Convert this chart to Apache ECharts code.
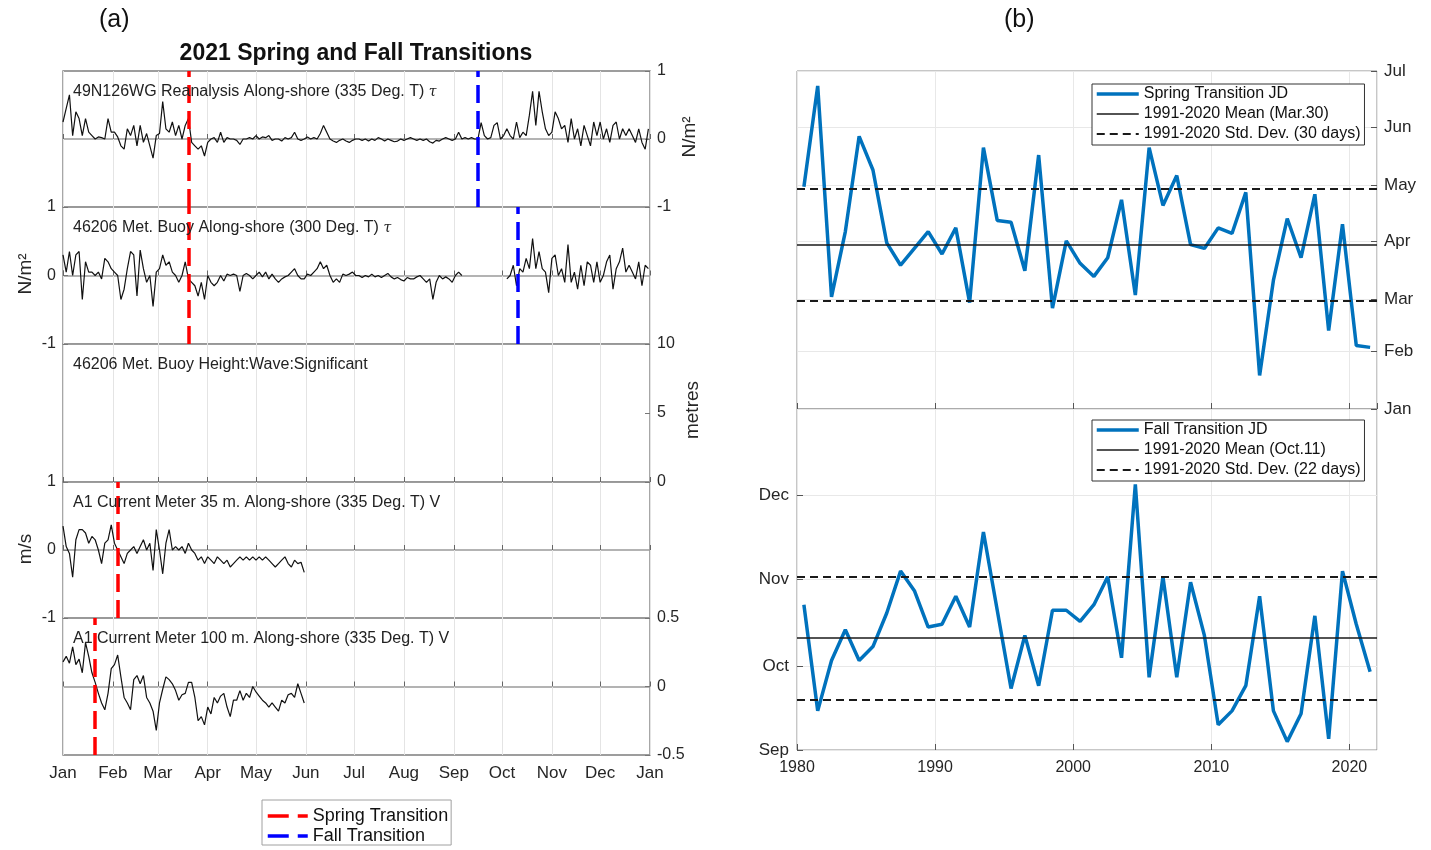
<!DOCTYPE html>
<html>
<head>
<meta charset="utf-8">
<script src="https://cdn.jsdelivr.net/npm/echarts@6/dist/echarts.min.js"></script>
<style>
html, body { margin: 0; padding: 0; background: #ffffff; }
#chart { width: 1431px; height: 850px; }
</style>
</head>
<body>
<div id="chart"></div>
<script>
// ---------- (a) 2021 daily series, sampled every 2 days from 1 Jan 2021 ----------
const sampleStart = '2021-01-01';
const sampleStepDays = 2;

// 49N126WG reanalysis along-shore wind stress (N/m^2)
const reanalysisTau = [
  0.25, 0.45, 0.65, 0.05, 0.4, 0.3, 0.05, 0.3, 0.1, 0.05,
  0.0, 0.03, 0.02, 0.0, 0.3, 0.1, 0.1, 0.03, -0.1, -0.15,
  0.15, 0.05, 0.2, -0.1, 0.2, -0.05, 0.08, -0.1, -0.28, 0.05,
  0.08, 0.55, 0.15, 0.1, 0.25, 0.05, 0.2, 0.0, 0.2, 0.3,
  -0.05, -0.1, -0.15, -0.1, -0.25, -0.05, 0.0, 0.02, -0.05, 0.1,
  -0.05, 0.02, 0.0, 0.0, -0.02, -0.08, 0.0, 0.0, 0.02, 0.0,
  0.05, 0.0, 0.03, 0.02, 0.05, -0.02, 0.0, 0.0, -0.03, 0.02,
  0.0, 0.02, 0.1, 0.0, -0.02, 0.0, 0.03, 0.0, 0.02, 0.0,
  0.08, 0.2, 0.1, 0.0, -0.03, -0.05, -0.02, 0.0, -0.03, -0.05,
  -0.02, 0.0,
  0.0, -0.02, 0.0, -0.03, 0.0, -0.02, 0.02, 0.0, -0.03, 0.0,
  -0.02, -0.04, -0.03, 0.0, -0.02, 0.0, 0.02, 0.0, -0.02, 0.0,
  -0.02, 0.0, -0.04, -0.06, -0.02, -0.03, 0.0, 0.02, 0.0, -0.02,
  0.0, 0.1, 0.0, 0.02, 0.0, 0.02, 0.0, 0.0, 0.24, 0.05,
  0.0, 0.02, 0.2, 0.24, 0.0, 0.05, 0.15, 0.05, 0.0, 0.25,
  0.02, 0.1, 0.05, 0.35, 0.7, 0.2, 0.7, 0.4, 0.15, 0.05,
  0.1, 0.4, 0.3, 0.15, 0.2, -0.05, 0.3, 0.0, 0.15, -0.1,
  0.2, 0.05, -0.1, 0.25, 0.05, 0.25, 0.0, 0.15, -0.05, 0.2,
  0.25, 0.0, 0.15, 0.05, 0.15, 0.05, -0.05, 0.15, -0.05, -0.15, 0.15
];

// 46206 met. buoy along-shore wind stress (N/m^2); null = no data
const buoyTau = [
  0.3, 0.05, 0.35, 0.0, 0.3, 0.35, -0.35, 0.2, 0.05, 0.05,
  0.0, 0.05, -0.05, 0.25, 0.2, 0.1, 0.05, 0.0, -0.35, -0.2,
  0.1, 0.35, 0.3, -0.3, 0.37, 0.1, -0.1, 0.0, -0.45, 0.05,
  0.1, 0.3, 0.15, 0.2, 0.05, 0.0, -0.1, 0.0, 0.2, -0.05,
  -0.1, -0.15, -0.3, -0.1, -0.35, 0.0, -0.1, -0.15, -0.1, 0.0,
  -0.08, 0.02, 0.0, 0.02, 0.0, -0.23, 0.0, 0.03, 0.0, -0.05,
  0.0, 0.05, -0.02, 0.05, -0.05, 0.02, -0.05, -0.1, -0.05, -0.02,
  0.0, 0.05, 0.1, 0.0, -0.05, -0.05, 0.02, 0.0, 0.05, 0.1,
  0.2, 0.1, 0.15, 0.0, -0.1, -0.05, -0.1, 0.02, 0.0, 0.02,
  0.05, 0.0,
  0.0, -0.03, 0.0, -0.02, 0.02, -0.02, 0.0, -0.03, 0.0, 0.03,
  -0.02, -0.05, -0.03, -0.06, -0.08, -0.03, -0.05, -0.05, -0.02, 0.0,
  -0.05, -0.1, -0.05, -0.35, -0.1, 0.0, -0.05, -0.02, -0.05, -0.1,
  0.0, 0.05, 0.0,
  null, null, null, null, null, null, null, null, null, null, null, null, null,
  -0.05, 0.0, 0.15, -0.15,
  0.1, 0.05, 0.25, 0.1, 0.54, 0.1, 0.35, 0.1, 0.05, -0.25,
  0.25, 0.3, 0.0, 0.1, -0.1, 0.45, -0.1, 0.05, -0.2, 0.15,
  -0.15, 0.2, 0.15, -0.1, 0.2, -0.1, 0.0, 0.2, 0.3, -0.2,
  0.1, 0.2, 0.4, 0.05, 0.15, 0.05, -0.05, 0.2, -0.15, 0.15,
  0.1
];

// A1 current meter along-shore velocity (m/s), 1 Jan - 1 Jun
const current35m = [
  0.35, 0.05, -0.05, -0.4, 0.15, 0.3, 0.3, 0.25, 0.1, 0.2,
  0.15, 0.0, -0.2, 0.1, 0.15, 0.37, 0.1, 0.0, -0.1, -0.2,
  -0.05, 0.0, 0.05, -0.05, 0.05, 0.15, 0.0, 0.1, -0.3, 0.3,
  0.0, -0.35, 0.1, 0.3, 0.0, 0.05, 0.0, 0.05, -0.05, 0.1,
  0.0, -0.05, -0.15, -0.1, -0.2, -0.1, -0.15, -0.2, -0.1, -0.15,
  -0.2, -0.15, -0.25, -0.2, -0.15, -0.1, -0.15, -0.1, -0.15, -0.1,
  -0.15, -0.1, -0.15, -0.1, -0.15, -0.2, -0.25, -0.2, -0.15, -0.1,
  -0.2, -0.25, -0.15, -0.2, -0.18, -0.33
];
const current100m = [
  0.18, 0.22, 0.17, 0.29, 0.16, 0.2, 0.1, 0.32, 0.22, 0.1,
  0.03, -0.05, -0.12, -0.17, -0.05, 0.13, 0.16, 0.23, 0.07, -0.08,
  -0.12, -0.17, 0.05, 0.08, 0.02, 0.08, -0.08, -0.12, -0.18, -0.32,
  -0.12, -0.02, 0.07, 0.05, 0.02, -0.03, -0.1, -0.06, -0.05, 0.03,
  0.03, -0.08, -0.25, -0.22, -0.28, -0.15, -0.2, -0.08, -0.12, -0.07,
  -0.05, -0.15, -0.22, -0.1, -0.1, -0.03, -0.1, -0.05, -0.08, 0.0,
  -0.04, -0.07, -0.1, -0.12, -0.15, -0.12, -0.15, -0.18, -0.1, -0.12,
  -0.06, -0.05, -0.08, 0.02, -0.05, -0.12
];

// 2021 transition dates
const springWindDate = '2021-03-20';
const fallReanalysisDate = '2021-09-16';
const fallBuoyDate = '2021-10-11';
const spring35mDate = '2021-02-04';
const spring100mDate = '2021-01-21';

const panelTitles = [
  '49N126WG Reanalysis Along-shore (335 Deg. T) ',
  '46206 Met. Buoy Along-shore (300 Deg. T) ',
  '46206 Met. Buoy Height:Wave:Significant',
  'A1 Current Meter 35 m. Along-shore (335 Deg. T) V',
  'A1 Current Meter 100 m. Along-shore (335 Deg. T) V'
];
const monthNames = ['Jan', 'Feb', 'Mar', 'Apr', 'May', 'Jun', 'Jul', 'Aug', 'Sep', 'Oct', 'Nov', 'Dec'];

// ---------- (b) transition day of year, 1980-2021 ----------
const years = [
  1980, 1981, 1982, 1983, 1984, 1985, 1986, 1987, 1988, 1989,
  1990, 1991, 1992, 1993, 1994, 1995, 1996, 1997, 1998, 1999,
  2000, 2001, 2002, 2003, 2004, 2005, 2006, 2007, 2008, 2009,
  2010, 2011, 2012, 2013, 2014, 2015, 2016, 2017, 2018, 2019,
  2020, 2021
];
const springJD = [
  120, 174, 61, 96, 147, 129, 90, 78, 87, 96,
  84, 98, 58, 141, 102, 101, 75, 137, 55, 91,
  79, 72, 82, 113, 62, 141, 110, 126, 89, 87,
  98, 95, 117, 19, 70, 103, 82, 116, 43, 100,
  35, 34
];
const fallJD = [
  296, 258, 276, 287, 276, 281, 293, 308, 301, 288,
  289, 299, 288, 322, 294, 266, 285, 267, 294, 294,
  290, 296, 306, 277, 339, 270, 306, 270, 304, 285,
  253, 258, 267, 299, 258, 247, 257, 292, 248, 308,
  289, 272
];
const springMeanJD = 89;   // Mar. 30
const springStdDays = 30;
const fallMeanJD = 284;    // Oct. 11
const fallStdDays = 22;

// ---------- helpers ----------
const DAY = 86400000;
const FONT = '"Liberation Sans", Arial, Helvetica, sans-serif';
const TEXT = '#262626';
const t0 = Date.parse(sampleStart + 'T00:00:00Z');
const toSeries = vals => vals.map((v, i) => [t0 + i * sampleStepDays * DAY, v === null ? '-' : v]);
const dateTs = s => Date.parse(s + 'T00:00:00Z');
const jdToTs = jd => Date.UTC(2021, 0, jd);
const monthLabel = v => monthNames[new Date(v).getUTCMonth()];
const midYear = y => y + 0.5;

const chart = echarts.init(document.getElementById('chart'), null, { renderer: 'canvas' });

// panel (a) layout
const aLeft = 63, aWidth = 587;
const aTops = [71, 207, 344, 482, 618];
const aHeights = [136, 137, 138, 136, 137];
const grids = aTops.map((top, i) => ({
  left: aLeft, top: top, width: aWidth, height: aHeights[i],
  show: true, borderColor: '#8a8a8a', borderWidth: 1.5, backgroundColor: '#fff'
}));
grids.push({ left: 797, top: 71, width: 580, height: 338, show: true, borderColor: '#8f8f8f', borderWidth: 1, backgroundColor: '#fff' });
grids.push({ left: 797, top: 409, width: 580, height: 341, show: true, borderColor: '#8f8f8f', borderWidth: 1, backgroundColor: 'transparent' });

const xAxes = aTops.map((_, i) => ({
  type: 'time', gridIndex: i,
  min: dateTs('2021-01-01'), max: dateTs('2022-01-01'),
  splitNumber: 12, minInterval: 28 * DAY, maxInterval: 31 * DAY,
  axisLine: { show: false },
  axisTick: { show: true, inside: true, length: 5, lineStyle: { color: '#666' } },
  axisLabel: {
    show: i === 4, formatter: monthLabel, color: TEXT, fontSize: 17, fontFamily: FONT,
    margin: 10, showMinLabel: true, showMaxLabel: true, hideOverlap: false
  },
  splitLine: { show: true, lineStyle: { color: '#e4e4e4', width: 1 } }
}));
[5, 6].forEach(g => xAxes.push({
  type: 'value', gridIndex: g, min: 1980, max: 2022, interval: 10,
  axisLine: { show: false },
  axisTick: { show: true, inside: true, length: 6, lineStyle: { color: '#555' } },
  axisLabel: { show: g === 6, color: TEXT, fontSize: 16, fontFamily: FONT, margin: 10, showMaxLabel: false, formatter: v => String(v) },
  splitLine: { show: true, lineStyle: { color: '#e8e8e8', width: 1 } }
}));

const aYSpec = [
  { pos: 'right', min: -1, max: 1, interval: 1, zero: true },
  { pos: 'left', min: -1, max: 1, interval: 1, zero: true },
  { pos: 'right', min: 0, max: 10, interval: 5, zero: false },
  { pos: 'left', min: -1, max: 1, interval: 1, zero: true },
  { pos: 'right', min: -0.5, max: 0.5, interval: 0.5, zero: true }
];
const yAxes = aYSpec.map((s, i) => ({
  type: 'value', gridIndex: i, position: s.pos, min: s.min, max: s.max, interval: s.interval,
  axisLine: { show: false },
  axisTick: { show: true, inside: true, length: 5, lineStyle: { color: '#777' } },
  axisLabel: { color: TEXT, fontSize: 16, fontFamily: FONT, margin: 7 },
  splitLine: { show: s.zero, lineStyle: { color: '#9a9a9a', width: 1.5 } }
}));
yAxes.push({
  type: 'time', gridIndex: 5, position: 'right',
  min: jdToTs(1), max: jdToTs(182), splitNumber: 6, minInterval: 28 * DAY, maxInterval: 31 * DAY,
  axisLine: { show: false },
  axisTick: { show: true, inside: true, length: 6, lineStyle: { color: '#555' } },
  axisLabel: { formatter: monthLabel, color: TEXT, fontSize: 17, fontFamily: FONT, margin: 7, showMinLabel: true, showMaxLabel: true },
  splitLine: { show: true, lineStyle: { color: '#e8e8e8', width: 1 } }
});
yAxes.push({
  type: 'time', gridIndex: 6, position: 'left',
  min: jdToTs(244), max: jdToTs(366), splitNumber: 4, minInterval: 28 * DAY, maxInterval: 31 * DAY,
  axisLine: { show: false },
  axisTick: { show: true, inside: true, length: 6, lineStyle: { color: '#555' } },
  axisLabel: { formatter: monthLabel, color: TEXT, fontSize: 17, fontFamily: FONT, margin: 8, showMinLabel: true, showMaxLabel: false },
  splitLine: { show: true, lineStyle: { color: '#e8e8e8', width: 1 } }
});

const dataLine = (vals, i) => ({
  type: 'line', xAxisIndex: i, yAxisIndex: i, data: toSeries(vals),
  symbol: 'none', connectNulls: false, silent: true, z: 3,
  lineStyle: { color: '#111', width: 1.2 }
});
const DASH = [18, 8];
const transition = (name, color, dateStr, i) => ({
  name: name, type: 'line', xAxisIndex: i, yAxisIndex: i, data: [], symbol: 'none', z: 5,
  lineStyle: { color: color, width: 3.5, type: DASH },
  itemStyle: { color: color },
  markLine: {
    silent: true, symbol: 'none', label: { show: false }, animation: false,
    lineStyle: { color: color, width: 3.5, type: DASH },
    data: [{ xAxis: dateTs(dateStr) }]
  }
});
const RED = '#ff0000', BLUE = '#0000ff', LINE_BLUE = '#0072BD', INK = '#1a1a1a';

const refLine = (name, gi, values, dashed) => ({
  name: name, type: 'line', xAxisIndex: gi, yAxisIndex: gi, data: [], symbol: 'none', z: 6,
  lineStyle: { color: INK, width: dashed ? 2 : 1.6, type: dashed ? [8, 5] : 'solid' },
  itemStyle: { color: INK },
  markLine: {
    silent: true, symbol: 'none', label: { show: false }, animation: false,
    lineStyle: { color: INK, width: dashed ? 2 : 1.6, type: dashed ? [8, 5] : 'solid' },
    data: values.map(v => ({ yAxis: jdToTs(v) }))
  }
});

const series = [
  dataLine(reanalysisTau, 0),
  dataLine(buoyTau, 1),
  dataLine(current35m, 3),
  dataLine(current100m, 4),
  transition('Spring Transition', RED, springWindDate, 0),
  transition('Spring Transition', RED, springWindDate, 1),
  transition('Spring Transition', RED, spring35mDate, 3),
  transition('Spring Transition', RED, spring100mDate, 4),
  transition('Fall Transition', BLUE, fallReanalysisDate, 0),
  transition('Fall Transition', BLUE, fallBuoyDate, 1),
  {
    name: 'Spring Transition JD', type: 'line', xAxisIndex: 5, yAxisIndex: 5, symbol: 'none', z: 4,
    data: years.map((y, i) => [midYear(y), jdToTs(springJD[i])]),
    lineStyle: { color: LINE_BLUE, width: 3.5 }, itemStyle: { color: LINE_BLUE }
  },
  refLine('1991-2020 Mean (Mar.30)', 5, [springMeanJD], false),
  refLine('1991-2020 Std. Dev. (30 days)', 5, [springMeanJD - springStdDays, springMeanJD + springStdDays], true),
  {
    name: 'Fall Transition JD', type: 'line', xAxisIndex: 6, yAxisIndex: 6, symbol: 'none', z: 4,
    data: years.map((y, i) => [midYear(y), jdToTs(fallJD[i])]),
    lineStyle: { color: LINE_BLUE, width: 3.5 }, itemStyle: { color: LINE_BLUE }
  },
  refLine('1991-2020 Mean (Oct.11)', 6, [fallMeanJD], false),
  refLine('1991-2020 Std. Dev. (22 days)', 6, [fallMeanJD - fallStdDays, fallMeanJD + fallStdDays], true)
];

// legend keys show the line only (no point marker)
const legendBase = {
  orient: 'vertical', selectedMode: false, backgroundColor: '#fff',
  borderWidth: 1,
  itemStyle: { opacity: 0 }
};
const key = (name, color, width, type) => ({ name: name, lineStyle: { color: color, width: width, type: type } });
const legends = [
  Object.assign({}, legendBase, {
    data: [key('Spring Transition', RED, 3.5, [21, 9]), key('Fall Transition', BLUE, 3.5, [21, 9])],
    left: 262, top: 800, itemWidth: 40, itemHeight: 20, itemGap: 2,
    borderColor: '#a0a0a0', padding: [7, 3, 0, 4],
    textStyle: { fontFamily: FONT, color: '#111', fontSize: 18 }
  }),
  Object.assign({}, legendBase, {
    data: [
      key('Spring Transition JD', LINE_BLUE, 3.5, 'solid'),
      key('1991-2020 Mean (Mar.30)', INK, 1.6, 'solid'),
      key('1991-2020 Std. Dev. (30 days)', INK, 2, [8, 5])
    ],
    left: 1092, top: 84, itemWidth: 42, itemHeight: 18, itemGap: 4, borderColor: '#333', padding: [2, 4, 3, 3],
    textStyle: { fontFamily: FONT, color: '#111', fontSize: 16 }
  }),
  Object.assign({}, legendBase, {
    data: [
      key('Fall Transition JD', LINE_BLUE, 3.5, 'solid'),
      key('1991-2020 Mean (Oct.11)', INK, 1.6, 'solid'),
      key('1991-2020 Std. Dev. (22 days)', INK, 2, [8, 5])
    ],
    left: 1092, top: 420, itemWidth: 42, itemHeight: 18, itemGap: 4, borderColor: '#333', padding: [2, 4, 3, 3],
    textStyle: { fontFamily: FONT, color: '#111', fontSize: 16 }
  })
];

// panel captions, titles and unit labels
const graphics = [
  { type: 'text', left: 99, top: 8, style: { text: '(a)', font: '25px ' + FONT, fill: '#111' } },
  { type: 'text', left: 1004, top: 8, style: { text: '(b)', font: '25px ' + FONT, fill: '#111' } },
  { type: 'text', x: 356, y: 54, style: { text: '2021 Spring and Fall Transitions', font: 'bold 23px ' + FONT, fill: '#111', align: 'center', verticalAlign: 'middle' } }
];
panelTitles.forEach((t, i) => {
  const tau = i < 2;
  graphics.push({
    type: 'text', x: 73, y: aTops[i] + 21, z: 10,
    style: {
      text: tau ? '{m|' + t + '}{g|τ}' : '{m|' + t + '}',
      rich: {
        m: { font: '16px ' + FONT, fill: '#222' },
        g: { font: 'italic 14px "DejaVu Serif", serif', fill: '#222' }
      },
      verticalAlign: 'middle'
    }
  });
});
const unitLabel = (text, x, y) => ({
  type: 'text', x: x, y: y, rotation: Math.PI / 2,
  style: { text: text, font: '19px ' + FONT, fill: TEXT, align: 'center', verticalAlign: 'middle' }
});
graphics.push(unitLabel('N/m²', 690, 137));
graphics.push(unitLabel('N/m²', 26, 274));
graphics.push(unitLabel('metres', 693, 410));
graphics.push(unitLabel('m/s', 26, 549));

chart.setOption({
  animation: false,
  useUTC: true,
  backgroundColor: '#ffffff',
  textStyle: { fontFamily: FONT },
  grid: grids,
  xAxis: xAxes,
  yAxis: yAxes,
  legend: legends,
  series: series,
  graphic: graphics
});
</script>
</body>
</html>
